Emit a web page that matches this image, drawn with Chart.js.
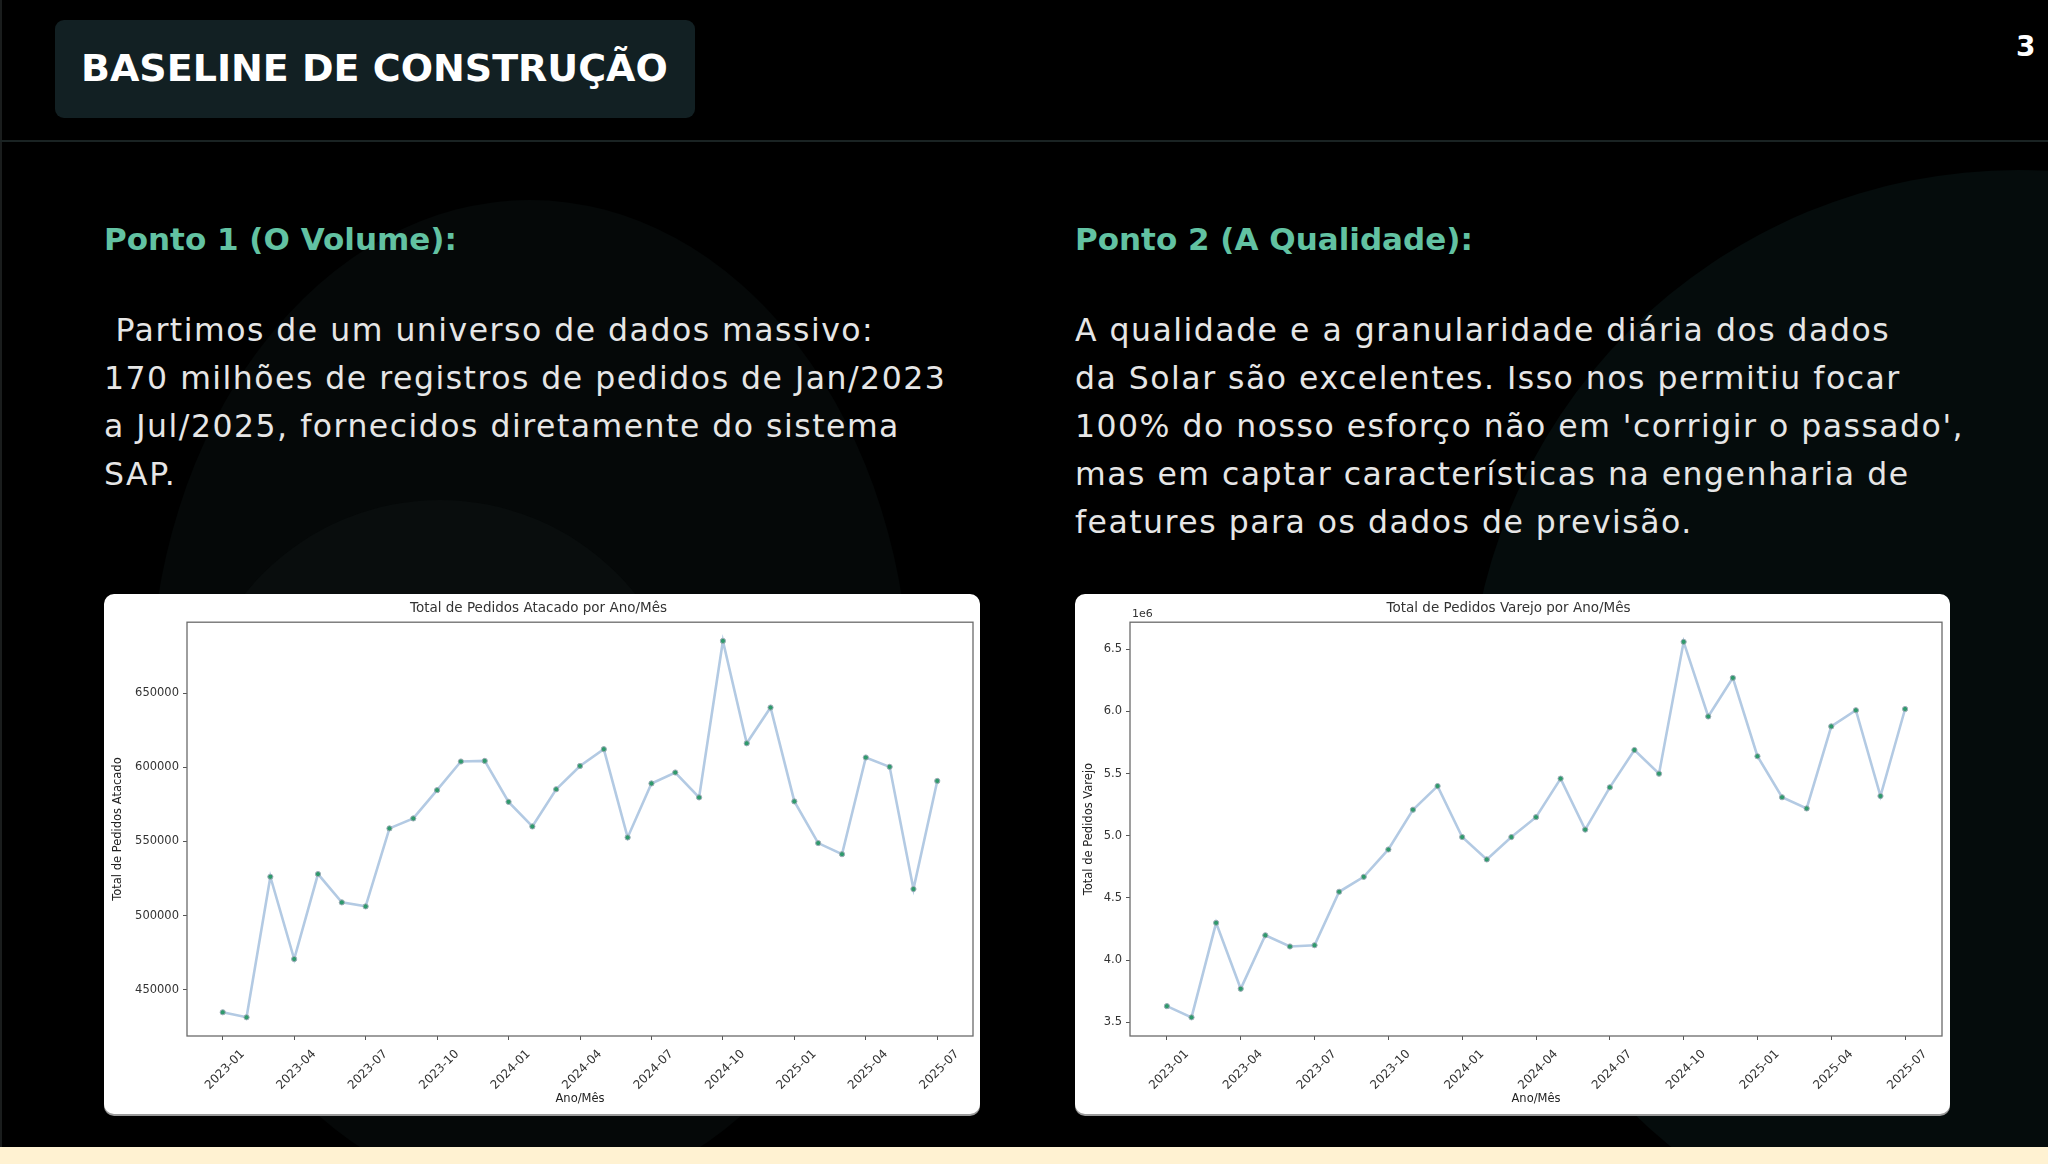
<!DOCTYPE html>
<html><head><meta charset="utf-8">
<script src="https://cdn.jsdelivr.net/npm/chart.js@4.4.0/dist/chart.umd.min.js"></script>
<style>
html,body{margin:0;padding:0;background:#000;}
body{width:2048px;height:1164px;position:relative;overflow:hidden;font-family:'DejaVu Sans',sans-serif;}
.bg1{position:absolute;left:150px;top:200px;width:760px;height:1000px;border-radius:50%;background:#050808;}
.bg2{position:absolute;left:190px;top:500px;width:500px;height:500px;border-radius:50%;background:#090d0d;}
.bg3{position:absolute;left:1468px;top:170px;width:1100px;height:1100px;border-radius:50%;background:#050c0c;}
.leftline{position:absolute;left:0;top:0;width:2px;height:1147px;background:#1a1d1d;}
.cream{position:absolute;left:0;top:1147px;width:2048px;height:17px;background:#fff2d2;}
.titlebox{position:absolute;left:55px;top:20px;width:640px;height:98px;border-radius:9px;background:#122023;}
.title{position:absolute;left:81px;top:68px;transform:translateY(-50%);color:#fff;font-weight:bold;font-size:38px;white-space:nowrap;}
.pnum{position:absolute;left:2016px;top:46px;transform:translateY(-50%);color:#fff;font-size:28px;font-weight:bold;}
.divider{position:absolute;left:0;top:140px;width:2048px;height:2px;background:#1a2323;}
.head{position:absolute;top:239px;transform:translateY(-50%);color:#62c2a2;font-weight:bold;font-size:31px;white-space:nowrap;}
.body{position:absolute;top:306px;color:#e6e6e6;font-size:31.5px;line-height:48px;white-space:nowrap;letter-spacing:1.5px;}
.cbox{position:absolute;top:594px;height:520px;background:#fff;border-radius:10px;overflow:hidden;box-shadow:0 2px 0 #9a9a9a;}
.cbox canvas{display:block;}
</style></head>
<body>
<div class="bg1"></div><div class="bg2"></div><div class="bg3"></div>
<div class="leftline"></div>
<div class="titlebox"></div>
<div class="title">BASELINE DE CONSTRUÇÃO</div>
<div class="pnum">3</div>
<div class="divider"></div>
<div class="head" style="left:104px">Ponto 1 (O Volume):</div>
<div class="head" style="left:1075px">Ponto 2 (A Qualidade):</div>
<div class="body" style="left:104px">&nbsp;Partimos de um universo de dados massivo:<br>170 milhões de registros de pedidos de Jan/2023<br>a Jul/2025, fornecidos diretamente do sistema<br>SAP.</div>
<div class="body" style="left:1075px">A qualidade e a granularidade diária dos dados<br>da Solar são excelentes. Isso nos permitiu focar<br>100% do nosso esforço não em 'corrigir o passado',<br>mas em captar características na engenharia de<br>features para os dados de previsão.</div>
<div class="cbox" style="left:104px;width:876px"><canvas id="c1" width="876" height="520"></canvas></div>
<div class="cbox" style="left:1075px;width:875px"><canvas id="c2" width="875" height="520"></canvas></div>
<div class="cream"></div>
<script>
const months = ['2023-01','2023-02','2023-03','2023-04','2023-05','2023-06','2023-07','2023-08','2023-09','2023-10','2023-11','2023-12',
'2024-01','2024-02','2024-03','2024-04','2024-05','2024-06','2024-07','2024-08','2024-09','2024-10','2024-11','2024-12',
'2025-01','2025-02','2025-03','2025-04','2025-05','2025-06','2025-07'];
const atacado = [434800,431400,526200,470700,528000,508900,506200,558800,565500,584600,603900,604300,
576700,560100,585200,600900,612200,552700,589100,596500,579700,685200,616200,640300,
577000,548900,541400,606600,600300,517900,590800];
const varejo = [3.63,3.54,4.30,3.77,4.20,4.11,4.12,4.55,4.67,4.89,5.21,5.40,
4.99,4.81,4.99,5.15,5.46,5.05,5.39,5.69,5.50,6.56,5.96,6.27,
5.64,5.31,5.22,5.88,6.01,5.32,6.02];
const varejoScale = 1e6;
const xTickIdx = [0,3,6,9,12,15,18,21,24,27,30];
const atacadoYTicks = [450000,500000,550000,600000,650000];
const varejoYTicks = [3.5,4.0,4.5,5.0,5.5,6.0,6.5];

const FONT = 'DejaVu Sans';
const frame = {
  id:'frame',
  afterDraw(chart, args, opts){
    const {ctx, chartArea:a} = chart;
    ctx.save();
    ctx.strokeStyle = '#6b6b6b'; ctx.lineWidth = 1.3;
    ctx.strokeRect(a.left, a.top, a.right-a.left, a.bottom-a.top);
    if (opts.offsetText){
      ctx.fillStyle='#333'; ctx.font='11px '+FONT; ctx.textAlign='left'; ctx.textBaseline='bottom';
      ctx.fillText(opts.offsetText, a.left+2, a.top-3);
    }
    ctx.restore();
  }
};

function makeChart(id, title, ylabel, values, yMin, yMax, yTicks, yFmt, yWidth, rightPad, offsetText){
  const pts = values.map((v,i)=>({x:i,y:v}));
  return new Chart(document.getElementById(id), {
    type:'line',
    data:{datasets:[{data:pts,borderColor:'#b3cae3',borderWidth:2.6,pointRadius:2.6,
      pointBackgroundColor:'#2f9a6c',pointBorderColor:'#a0adb9',pointBorderWidth:1,tension:0}]},
    options:{
      responsive:false,animation:false,
      layout:{padding:{left:0,right:rightPad,top:0,bottom:0}},
      plugins:{legend:{display:false},tooltip:{enabled:false},
        title:{display:true,text:title,color:'#333',font:{family:FONT,size:13.5,weight:'normal'},padding:{top:6,bottom:6}},
        frame:{offsetText:offsetText}},
      scales:{
        x:{type:'linear',min:-1.5,max:31.5,
          afterBuildTicks:s=>{s.ticks=xTickIdx.map(v=>({value:v}));},
          afterFit:s=>{s.height=78;},
          border:{display:false},
          grid:{drawOnChartArea:false,drawTicks:true,tickLength:4,tickColor:'#555'},
          ticks:{autoSkip:false,maxRotation:45,minRotation:45,
            color:'#333',font:{family:FONT,size:12},padding:7,labelOffset:20,
            callback:v=>months[v]!==undefined?months[v]:''},
          title:{display:true,text:'Ano/Mês',color:'#222',font:{family:FONT,size:11.5},padding:{top:0,bottom:8}}},
        y:{type:'linear',min:yMin,max:yMax,
          afterBuildTicks:s=>{s.ticks=yTicks.map(v=>({value:v}));},
          afterFit:s=>{s.width=yWidth;},
          border:{display:false},
          grid:{drawOnChartArea:false,drawTicks:true,tickLength:4,tickColor:'#555'},
          ticks:{autoSkip:false,color:'#333',font:{family:FONT,size:11.5},padding:4,callback:yFmt},
          title:{display:true,text:ylabel,color:'#222',font:{family:FONT,size:11.5},padding:{top:7,bottom:0}}}
      }
    },
    plugins:[frame]
  });
}

makeChart('c1','Total de Pedidos Atacado por Ano/Mês','Total de Pedidos Atacado',atacado,
  418800,697840,atacadoYTicks,v=>String(v),83,7,null);
makeChart('c2','Total de Pedidos Varejo por Ano/Mês','Total de Pedidos Varejo',varejo.map(v=>v*varejoScale),
  3.39e6,6.718e6,varejoYTicks.map(v=>v*varejoScale),v=>(v/varejoScale).toFixed(1),55,8,'1e6');
</script>
</body></html>
